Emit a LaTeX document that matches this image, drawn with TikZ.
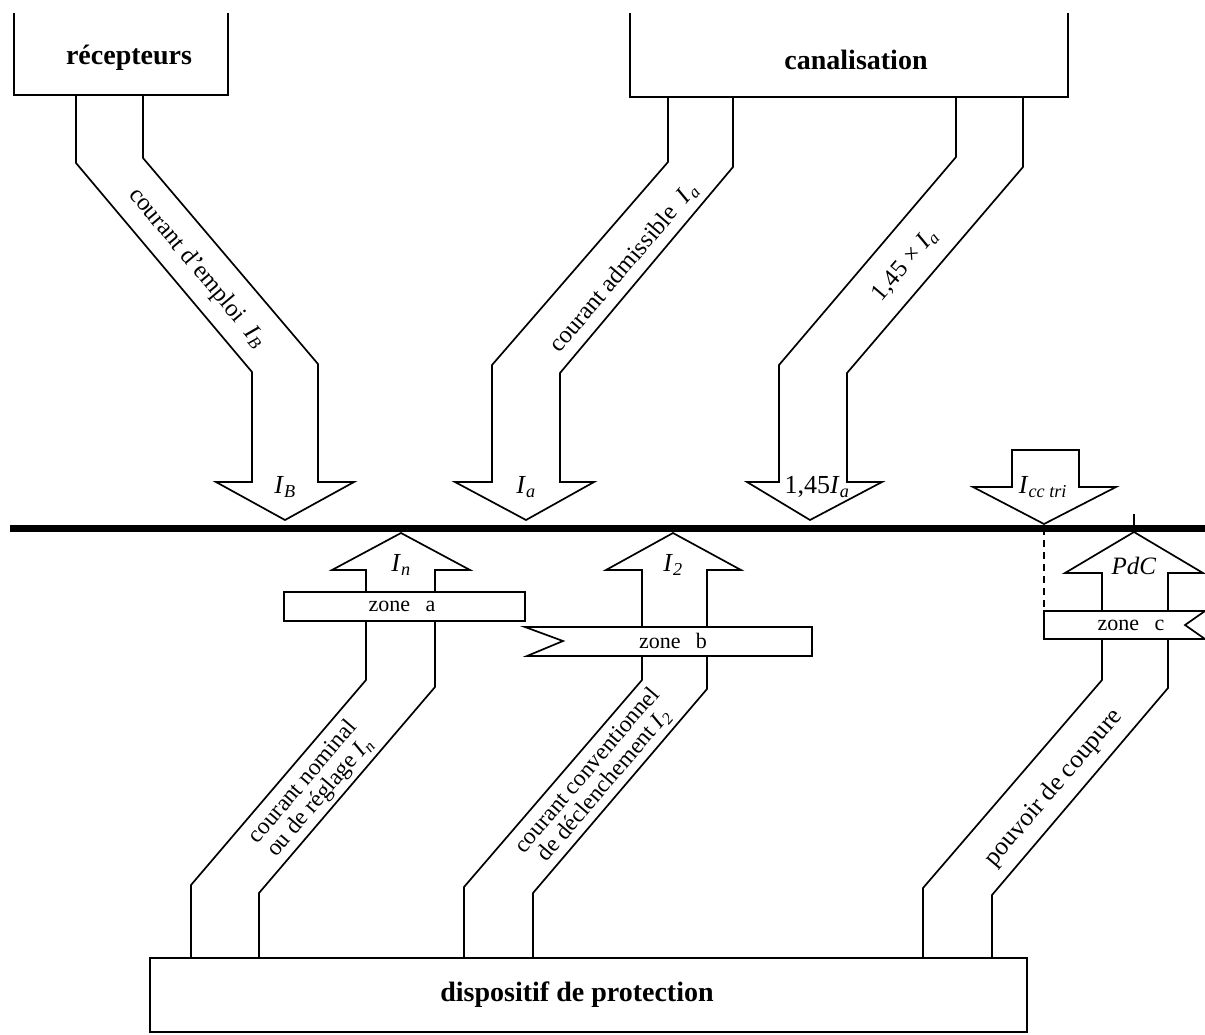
\documentclass[tikz,border=0pt]{standalone}
\usepackage{fontspec}
\setmainfont{Liberation Serif}
\newcommand\Isub[2]{\textit{#1}\textsubscript{\textit{#2}}}
\begin{document}
\begin{tikzpicture}[x=1pt,y=-1pt,line join=miter,
  edge/.style={draw,line width=1.7pt},
  zonebox/.style={draw,line width=1.7pt,fill=white},
  busbar/.style={line width=7pt},
  boxlbl/.style={inner sep=0pt,font=\fontsize{28}{30}\selectfont\bfseries},
  lbl/.style={inner sep=0pt,font=\fontsize{24.5}{26}\selectfont},
  twolbl/.style={inner sep=0pt,align=center,font=\fontsize{23.5}{22.5}\selectfont},
  headlbl/.style={inner sep=0pt,font=\fontsize{26}{27}\selectfont},
  zonelbl/.style={inner sep=0pt,font=\fontsize{22}{23}\selectfont}]
\useasboundingbox (0,0) rectangle (1205,1034);

% boxes
\draw[edge] (14,13) -- (14,95) -- (228,95) -- (228,13);
\node[boxlbl] (recep) at (129,58) {récepteurs};
\draw[edge] (630,13) -- (630,97) -- (1068,97) -- (1068,13);
\node[boxlbl] (canal) at (856,60) {canalisation};
\draw[edge] (150,958) rectangle (1027,1032);
\node[boxlbl] (protect) at (577,995) {dispositif de protection};

% downward block arrows
\draw[edge] (76,95) -- (76,163) -- (252,372) -- (252,482) -- (216,482) -- (285,520)
  -- (354,482) -- (318,482) -- (318,364) -- (143,158) -- (143,95);
\draw[edge] (668,97) -- (668,162) -- (492,365) -- (492,482) -- (455,482) -- (526,520)
  -- (594,482) -- (560,482) -- (560,373) -- (733,167) -- (733,97);
\draw[edge] (956,97) -- (956,157) -- (779,365) -- (779,482) -- (747,482) -- (810,520)
  -- (882,482) -- (847,482) -- (847,373) -- (1023,167) -- (1023,97);
\draw[edge] (1012,487) -- (973,487) -- (1044,524) -- (1116,487) -- (1079,487)
  -- (1079,450) -- (1012,450) -- cycle;

% upward block arrows
\draw[edge] (191,958) -- (191,885) -- (366,680) -- (366,570) -- (332,570) -- (401,533)
  -- (470,570) -- (435,570) -- (435,687) -- (259,893) -- (259,958);
\draw[edge] (464,958) -- (464,887) -- (642,680) -- (642,570) -- (606,570) -- (673,533)
  -- (741,570) -- (707,570) -- (707,689) -- (533,893) -- (533,958);
\draw[edge] (923,958) -- (923,888) -- (1102,680) -- (1102,573) -- (1065,573) -- (1134,532)
  -- (1203,573) -- (1168,573) -- (1168,688) -- (992,895) -- (992,958);

% bus bar
\draw[busbar] (10,528) -- (1205,528);
\draw[line width=1.7pt] (1134,514) -- (1134,528);
\coordinate (icctip) at (1044,528);
\coordinate (zonectop) at (1044,611);
\draw[line width=1.7pt,dash pattern=on 7pt off 5pt] (icctip) -- (zonectop);

% zone bands
\draw[zonebox] (284,592) rectangle (525,621);
\node[zonelbl] (za) at (402,606) {zone\hspace{0.7em}a};
\draw[zonebox] (525,627) -- (812,627) -- (812,656) -- (527,656) -- (563,641) -- cycle;
\node[zonelbl] (zb) at (673,641) {zone\hspace{0.7em}b};
\draw[zonebox] (zonectop) -- (1205,611) -- (1185,625) -- (1205,639) -- (1044,639) -- cycle;
\node[zonelbl] (zc) at (1131,625) {zone\hspace{0.7em}c};

% labels on the arrows
\node[lbl,rotate=-50] (lB) at (197,268) {courant d'emploi\ \ \Isub{I}{B}};
\node[lbl,rotate=49.5] (la) at (624,268) {courant admissible\ \ \Isub{I}{a}};
\node[lbl,rotate=49.5] (l145) at (905,265) {1,45 × \Isub{I}{a}};
\node[twolbl,rotate=49.5] (ln) at (312,790) {courant nominal\\ou de réglage \Isub{I}{n}};
\node[twolbl,rotate=49.5] (l2) at (596,778) {courant conventionnel\\de déclenchement \Isub{I}{2}};
\node[lbl,rotate=49.5,font=\fontsize{25.5}{27}\selectfont] (lpdc) at (1054,788) {pouvoir de coupure};

% labels in the arrow heads
\node[headlbl] (hB) at (285,487) {\Isub{I}{B}};
\node[headlbl] (ha) at (526,487) {\Isub{I}{a}};
\node[headlbl] (h145) at (817,487) {1,45\Isub{I}{a}};
\node[headlbl] (hcc) at (1043,487) {\Isub{I}{cc tri}};
\node[headlbl] (hn) at (401,565) {\Isub{I}{n}};
\node[headlbl] (h2) at (673,565) {\Isub{I}{2}};
\node[headlbl,font=\fontsize{25}{26}\selectfont] (hpdc) at (1134,566) {\textit{PdC}};
\end{tikzpicture}
\end{document}
